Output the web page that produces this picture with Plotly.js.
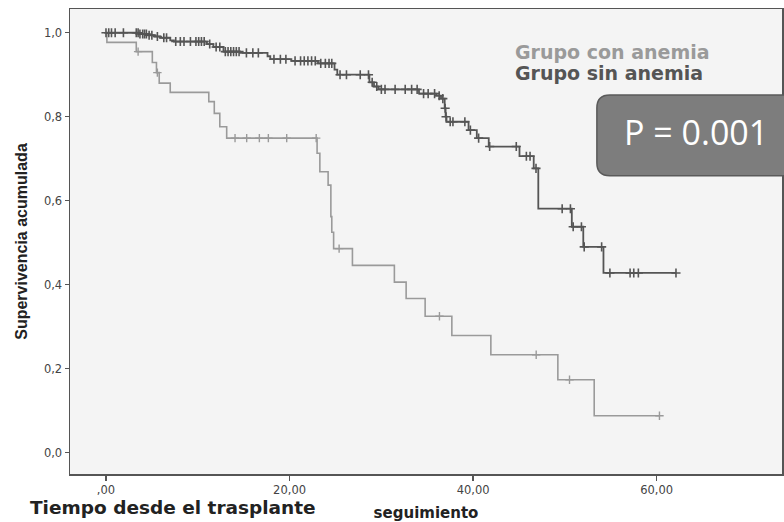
<!DOCTYPE html>
<html><head><meta charset="utf-8">
<script src="https://cdn.plot.ly/plotly-3.0.1.min.js"></script>
<style>html,body{margin:0;padding:0;background:#fff}</style>
</head><body>
<div id="chart" style="width:784px;height:522px"></div>
<script>
// ---- data ----
const xTickVals = [0, 20, 40, 60];
const xTickText = [",00", "20,00", "40,00", "60,00"];
const yTickVals = [0, 0.2, 0.4, 0.6, 0.8, 1.0];
const yTickText = ["0,0", "0,2", "0,4", "0,6", "0,8", "1,0"];

// Grupo sin anemia (dark)
const sinEventTimes = [3.6, 4.6, 5.3, 5.9, 7.0, 7.4, 11.0, 11.7, 12.8, 14.6, 17.6, 17.9, 20.2, 23.1, 24.9, 25.2, 28.7, 29.2, 29.7, 34.1, 36.0, 36.5, 36.9, 37.0, 37.1, 39.5, 40.4, 41.7, 45.05, 46.6, 47.1, 50.75, 52.0, 54.2];
const sinEventSurv  = [0.997, 0.994, 0.991, 0.988, 0.982, 0.979, 0.973, 0.966, 0.955, 0.952, 0.944, 0.937, 0.933, 0.927, 0.912, 0.900, 0.882, 0.872, 0.865, 0.855, 0.850, 0.843, 0.820, 0.800, 0.788, 0.768, 0.749, 0.729, 0.706, 0.677, 0.581, 0.538, 0.490, 0.428];
const sinCensorTimes = [0.0, 0.3, 0.6, 1.0, 1.9, 3.3, 3.5, 3.7, 4.0, 4.2, 4.4, 4.7, 5.0, 5.6, 6.3, 6.6, 7.6, 8.1, 8.5, 9.2, 9.8, 10.1, 10.4, 10.7, 11.3, 12.0, 12.4, 13.0, 13.3, 13.6, 13.9, 14.2, 14.5, 15.3, 16.0, 16.6, 18.3, 19.0, 19.6, 20.6, 21.2, 21.6, 22.0, 22.4, 22.8, 23.4, 23.9, 24.3, 24.6, 25.5, 26.2, 27.7, 28.6, 29.0, 29.5, 30.0, 30.4, 31.5, 32.6, 33.3, 33.9, 34.6, 35.1, 35.8, 36.3, 36.7, 36.95, 37.05, 37.5, 37.8, 39.1, 39.7, 40.6, 41.8, 44.7, 45.8, 46.2, 46.85, 49.7, 50.6, 50.9, 51.8, 52.1, 54.0, 54.9, 57.1, 57.5, 58.0, 62.1];
const sinEndTime = 62.1;

// Grupo con anemia (light)
const conEventTimes = [0.1, 3.3, 5.05, 5.5, 5.8, 7.0, 11.2, 11.8, 12.4, 13.15, 23.0, 23.3, 24.2, 24.5, 24.6, 24.8, 26.85, 31.42, 32.7, 34.77, 37.68, 41.93, 49.23, 53.19];
const conEventSurv  = [0.977, 0.955, 0.929, 0.905, 0.880, 0.858, 0.836, 0.808, 0.776, 0.749, 0.713, 0.669, 0.637, 0.562, 0.525, 0.486, 0.446, 0.406, 0.367, 0.325, 0.279, 0.233, 0.1735, 0.088];
const conCensorTimes = [3.5, 5.6, 14.06, 15.33, 16.71, 17.69, 19.69, 22.9, 25.4, 36.33, 46.87, 50.5, 60.3];
const conEndTime = 60.3;

const legendLabels = ["Grupo con anemia", "Grupo sin anemia"];
const pText = "P = 0.001";

// ---- helpers ----
function stepXY(times, surv, end) {
  return { x: [0].concat(times, [end]), y: [1].concat(surv, [surv[surv.length - 1]]) };
}
function survAt(times, surv, t) {
  let s = 1;
  for (let i = 0; i < times.length; i++) if (times[i] <= t) s = surv[i];
  return s;
}

const darkCol = "#555555", lightCol = "#9a9a9a";
const sinStep = stepXY(sinEventTimes, sinEventSurv, sinEndTime);
const conStep = stepXY(conEventTimes, conEventSurv, conEndTime);

const traces = [
  { x: conStep.x, y: conStep.y, mode: "lines", line: { shape: "hv", color: lightCol, width: 1.6 }, name: legendLabels[0], hoverinfo: "skip" },
  { x: conCensorTimes, y: conCensorTimes.map(t => survAt(conEventTimes, conEventSurv, t)), mode: "markers",
    marker: { symbol: "cross-thin", size: 6, line: { color: lightCol, width: 1.4 } }, name: legendLabels[0] + " censurado", hoverinfo: "skip" },
  { x: sinStep.x, y: sinStep.y, mode: "lines", line: { shape: "hv", color: darkCol, width: 1.8 }, name: legendLabels[1], hoverinfo: "skip" },
  { x: sinCensorTimes, y: sinCensorTimes.map(t => survAt(sinEventTimes, sinEventSurv, t)), mode: "markers",
    marker: { symbol: "cross-thin", size: 6.5, line: { color: darkCol, width: 1.6 } }, name: legendLabels[1] + " censurado", hoverinfo: "skip" }
];

// rounded box (paper coords, radius given in px)
const W = 784 - 70 - 2, H = 522 - 9 - 48;
const bx0 = 0.740, bx1 = 1.03, by0 = 0.6415, by1 = 0.815;
const rx = 13 / W, ry = 13 / H;
const boxPath = `M ${bx0 + rx},${by1} L ${bx1 - rx},${by1} Q ${bx1},${by1} ${bx1},${by1 - ry} L ${bx1},${by0 + ry} Q ${bx1},${by0} ${bx1 - rx},${by0} L ${bx0 + rx},${by0} Q ${bx0},${by0} ${bx0},${by0 + ry} L ${bx0},${by1 - ry} Q ${bx0},${by1} ${bx0 + rx},${by1} Z`;

const layout = {
  width: 784, height: 522,
  margin: { l: 70, r: 2, t: 9, b: 48 },
  paper_bgcolor: "#ffffff",
  plot_bgcolor: "#f4f4f4",
  showlegend: false,
  xaxis: {
    range: [-3.92, 73.65], tickvals: xTickVals, ticktext: xTickText,
    ticks: "outside", ticklen: 5, tickwidth: 1.5, tickcolor: "#555",
    showline: true, mirror: true, linecolor: "#555", linewidth: 1.5,
    showgrid: false, zeroline: false,
    tickfont: { family: "DejaVu Sans", size: 11.5, color: "#444" },
    title: { text: "seguimiento", font: { family: "DejaVu Sans", size: 15, color: "#222", weight: "bold" }, standoff: 14 }
  },
  yaxis: {
    range: [-0.0508, 1.0565], tickvals: yTickVals, ticktext: yTickText,
    ticks: "outside", ticklen: 4, tickwidth: 1.5, tickcolor: "#555",
    showline: true, mirror: true, linecolor: "#555", linewidth: 1.5,
    showgrid: false, zeroline: false,
    tickfont: { family: "DejaVu Sans", size: 11.5, color: "#444" },
    title: { text: "Supervivencia acumulada", font: { family: "Liberation Sans", size: 16, color: "#222", weight: "bold" }, standoff: 12 }
  },
  shapes: [
    { type: "path", xref: "paper", yref: "paper", path: boxPath, fillcolor: "#7d7d7d", line: { color: "#5a5a5a", width: 1.5 }, layer: "above" }
  ],
  annotations: [
    { xref: "paper", yref: "paper", x: 0.622, y: 0.9075, xanchor: "left", yanchor: "middle", showarrow: false,
      text: legendLabels[0], font: { family: "DejaVu Sans", size: 19, color: "#9a9a9a", weight: "bold" } },
    { xref: "paper", yref: "paper", x: 0.622, y: 0.862, xanchor: "left", yanchor: "middle", showarrow: false,
      text: legendLabels[1], font: { family: "DejaVu Sans", size: 19, color: "#555555", weight: "bold" } },
    { xref: "paper", yref: "paper", x: 0.879, y: 0.736, xanchor: "center", yanchor: "middle", showarrow: false,
      text: pText, font: { family: "Open Sans", size: 34, color: "#ffffff" } },
    { xref: "paper", yref: "paper", x: -0.059, y: -0.073, xanchor: "left", yanchor: "middle", showarrow: false,
      text: "Tiempo desde el trasplante", font: { family: "DejaVu Sans", size: 18.5, color: "#222", weight: "bold" } }
  ]
};

Plotly.newPlot("chart", traces, layout, { displayModeBar: false, staticPlot: true });
</script>
</body></html>
